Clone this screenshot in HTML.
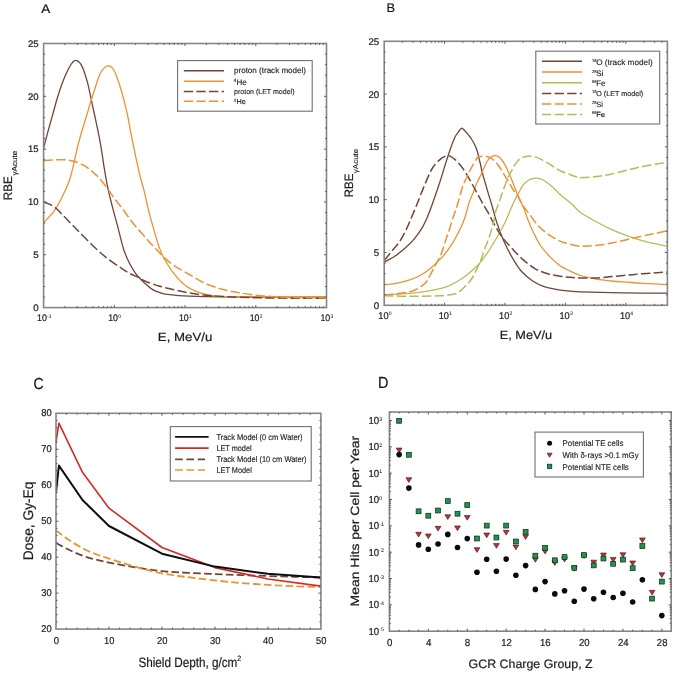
<!DOCTYPE html>
<html><head><meta charset="utf-8"><style>
html,body{margin:0;padding:0;background:#fff;}
svg{display:block;}
text{font-family:"Liberation Sans",sans-serif;}
svg{will-change:transform;text-rendering:geometricPrecision;}
text{stroke:#1e1e1e;stroke-width:0.22px;}
</style></head><body>
<svg width="675" height="674" viewBox="0 0 675 674">
<rect width="675" height="674" fill="#fff"/>
<text x="41.3" y="13.2" font-size="12.5" text-anchor="start" fill="#111" textLength="9" lengthAdjust="spacingAndGlyphs">A</text>
<clipPath id="cA"><rect x="43.6" y="43.5" width="282.9" height="264.1"/></clipPath>
<g clip-path="url(#cA)">
<path d="M43.6,148 C44.43,144.85 47.15,134.42 48.6,129.1 C50.05,123.78 51.17,120.17 52.3,116.1 C53.43,112.03 54.37,108.33 55.4,104.7 C56.43,101.07 57.47,97.6 58.5,94.3 C59.53,91 60.38,88.2 61.6,84.9 C62.82,81.6 64.42,77.62 65.8,74.5 C67.18,71.38 68.77,68.22 69.9,66.2 C71.03,64.18 71.73,63.38 72.6,62.4 C73.47,61.42 74.02,60.37 75.1,60.3 C76.18,60.23 77.9,60.9 79.1,62 C80.3,63.1 81.33,64.9 82.3,66.9 C83.27,68.9 84.02,71.33 84.9,74 C85.78,76.67 86.78,79.78 87.6,82.9 C88.42,86.02 89.2,90.02 89.8,92.7 C90.4,95.38 90.6,96.17 91.2,99 C91.8,101.83 92.67,106.25 93.4,109.7 C94.13,113.15 94.43,114.08 95.6,119.7 C96.77,125.32 98.92,135.08 100.4,143.4 C101.88,151.72 103.18,161.8 104.5,169.6 C105.82,177.4 106.88,183.62 108.3,190.2 C109.72,196.78 111.42,202.98 113,209.1 C114.58,215.22 116.02,220.17 117.8,226.9 C119.58,233.63 121.75,243.43 123.7,249.5 C125.65,255.57 127.62,259.45 129.5,263.3 C131.38,267.15 133.43,270.27 135,272.6 C136.57,274.93 137.27,275.53 138.9,277.3 C140.53,279.07 142.57,281.18 144.8,283.2 C147.03,285.22 149.77,287.83 152.3,289.4 C154.83,290.97 157.53,291.78 160,292.6 C162.47,293.42 162.22,293.7 167.1,294.3 C171.98,294.9 178.92,295.77 189.3,296.2 C199.68,296.63 206.53,296.73 229.4,296.9 C252.27,297.07 310.32,297.15 326.5,297.2" fill="none" stroke="#724536" stroke-width="1.3" stroke-linejoin="round" />
<path d="M43.6,222.7 C45.47,220.6 51.45,214.92 54.8,210.1 C58.15,205.28 61.22,198.9 63.7,193.8 C66.18,188.7 68,184.63 69.7,179.5 C71.4,174.37 72.6,168.42 73.9,163 C75.2,157.58 76.3,151.85 77.5,147 C78.7,142.15 79.67,138.85 81.1,133.9 C82.53,128.95 84.43,122.87 86.1,117.3 C87.77,111.73 89.5,105.68 91.1,100.5 C92.7,95.32 94.43,90.07 95.7,86.2 C96.97,82.33 97.58,80.03 98.7,77.3 C99.82,74.57 100.85,71.72 102.4,69.8 C103.95,67.88 106.27,66.03 108,65.8 C109.73,65.57 111.5,66.98 112.8,68.4 C114.1,69.82 114.68,71.58 115.8,74.3 C116.92,77.02 118.4,81.37 119.5,84.7 C120.6,88.03 121.48,91.03 122.4,94.3 C123.32,97.57 124.1,100.6 125,104.3 C125.9,108 126.92,112.22 127.8,116.5 C128.68,120.78 129.13,124.03 130.3,130 C131.47,135.97 133.22,144.8 134.8,152.3 C136.38,159.8 138.28,168.68 139.8,175 C141.32,181.32 142.23,183.52 143.9,190.2 C145.57,196.88 147.82,207.4 149.8,215.1 C151.78,222.8 154.22,231 155.8,236.4 C157.38,241.8 157.92,243.82 159.3,247.5 C160.68,251.18 161.57,254.03 164.1,258.5 C166.63,262.97 170.78,269.68 174.5,274.3 C178.22,278.92 182.2,283.15 186.4,286.2 C190.6,289.25 195.25,291.03 199.7,292.6 C204.15,294.17 208.15,294.92 213.1,295.6 C218.05,296.28 210.5,296.43 229.4,296.7 C248.3,296.97 310.32,297.12 326.5,297.2" fill="none" stroke="#ee9230" stroke-width="1.3" stroke-linejoin="round" />
<path d="M43.6,202 C44.33,202.27 46.13,202.73 48,203.6 C49.87,204.47 52.42,205.37 54.8,207.2 C57.18,209.03 59.93,212.22 62.3,214.6 C64.67,216.98 66.53,218.97 69,221.5 C71.47,224.03 73.28,225.93 77.1,229.8 C80.92,233.67 86.95,240 91.9,244.7 C96.85,249.4 101.85,254.05 106.8,258 C111.75,261.95 117.73,265.8 121.6,268.4 C125.47,271 127.03,272.03 130,273.6 C132.97,275.17 136.93,276.57 139.4,277.8 C141.87,279.03 141.42,279.6 144.8,281 C148.18,282.4 154.75,284.72 159.7,286.2 C164.65,287.68 169.57,288.78 174.5,289.9 C179.43,291.02 184.35,292.03 189.3,292.9 C194.25,293.77 199.25,294.53 204.2,295.1 C209.15,295.67 213.03,295.93 219,296.3 C224.97,296.67 231.5,297.02 240,297.3 C248.5,297.58 260,297.85 270,298 C280,298.15 290.58,298.15 300,298.2 C309.42,298.25 322.08,298.28 326.5,298.3" fill="none" stroke="#724536" stroke-width="1.5" stroke-dasharray="9.3 3.3" stroke-linejoin="round" />
<path d="M43.6,160.7 C45,160.58 48.88,160.17 52,160 C55.12,159.83 59.3,159.63 62.3,159.7 C65.3,159.77 67.53,159.98 70,160.4 C72.47,160.82 74.8,161.37 77.1,162.2 C79.4,163.03 81.73,164.23 83.8,165.4 C85.87,166.57 87.72,167.83 89.5,169.2 C91.28,170.57 92.75,171.98 94.5,173.6 C96.25,175.22 97.8,176.33 100,178.9 C102.2,181.47 105.13,185.53 107.7,189 C110.27,192.47 112.73,196.15 115.4,199.7 C118.07,203.25 120.93,206.58 123.7,210.3 C126.47,214.02 129.03,218.23 132,222 C134.97,225.77 138.53,229.5 141.5,232.9 C144.47,236.3 147.3,239.63 149.8,242.4 C152.3,245.17 154.12,246.97 156.5,249.5 C158.88,252.03 161.1,254.88 164.1,257.6 C167.1,260.32 170.3,262.98 174.5,265.8 C178.7,268.62 184.35,271.63 189.3,274.5 C194.25,277.37 199.25,280.68 204.2,283 C209.15,285.32 214.8,287.07 219,288.4 C223.2,289.73 225.8,290.23 229.4,291 C233,291.77 236.15,292.3 240.6,293 C245.05,293.7 250.92,294.6 256.1,295.2 C261.28,295.8 266.52,296.23 271.7,296.6 C276.88,296.97 278.07,297.18 287.2,297.4 C296.33,297.62 319.95,297.82 326.5,297.9" fill="none" stroke="#ee9230" stroke-width="1.5" stroke-dasharray="9.3 3.3" stroke-linejoin="round" />
</g>
<rect x="43.6" y="43.5" width="282.9" height="264.1" fill="none" stroke="#858585" stroke-width="1.6"/>
<path d="M43.6,297.04h1.5 M326.5,297.04h-1.5 M43.6,286.47h1.5 M326.5,286.47h-1.5 M43.6,275.91h1.5 M326.5,275.91h-1.5 M43.6,265.34h1.5 M326.5,265.34h-1.5 M43.6,244.22h1.5 M326.5,244.22h-1.5 M43.6,233.65h1.5 M326.5,233.65h-1.5 M43.6,223.09h1.5 M326.5,223.09h-1.5 M43.6,212.52h1.5 M326.5,212.52h-1.5 M43.6,191.4h1.5 M326.5,191.4h-1.5 M43.6,180.83h1.5 M326.5,180.83h-1.5 M43.6,170.27h1.5 M326.5,170.27h-1.5 M43.6,159.7h1.5 M326.5,159.7h-1.5 M43.6,138.58h1.5 M326.5,138.58h-1.5 M43.6,128.01h1.5 M326.5,128.01h-1.5 M43.6,117.45h1.5 M326.5,117.45h-1.5 M43.6,106.88h1.5 M326.5,106.88h-1.5 M43.6,85.76h1.5 M326.5,85.76h-1.5 M43.6,75.19h1.5 M326.5,75.19h-1.5 M43.6,64.63h1.5 M326.5,64.63h-1.5 M43.6,54.06h1.5 M326.5,54.06h-1.5" stroke="#5a5a5a" stroke-width="1" fill="none"/>
<path d="M43.6,254.78h2.5 M326.5,254.78h-2.5 M43.6,201.96h2.5 M326.5,201.96h-2.5 M43.6,149.14h2.5 M326.5,149.14h-2.5 M43.6,96.32h2.5 M326.5,96.32h-2.5" stroke="#5a5a5a" stroke-width="1" fill="none"/>
<path d="M64.89,307.6v-1.5 M64.89,43.5v1.5 M77.34,307.6v-1.5 M77.34,43.5v1.5 M86.18,307.6v-1.5 M86.18,43.5v1.5 M93.03,307.6v-1.5 M93.03,43.5v1.5 M98.63,307.6v-1.5 M98.63,43.5v1.5 M103.37,307.6v-1.5 M103.37,43.5v1.5 M107.47,307.6v-1.5 M107.47,43.5v1.5 M111.09,307.6v-1.5 M111.09,43.5v1.5 M135.62,307.6v-1.5 M135.62,43.5v1.5 M148.07,307.6v-1.5 M148.07,43.5v1.5 M156.91,307.6v-1.5 M156.91,43.5v1.5 M163.76,307.6v-1.5 M163.76,43.5v1.5 M169.36,307.6v-1.5 M169.36,43.5v1.5 M174.09,307.6v-1.5 M174.09,43.5v1.5 M178.2,307.6v-1.5 M178.2,43.5v1.5 M181.81,307.6v-1.5 M181.81,43.5v1.5 M206.34,307.6v-1.5 M206.34,43.5v1.5 M218.79,307.6v-1.5 M218.79,43.5v1.5 M227.63,307.6v-1.5 M227.63,43.5v1.5 M234.48,307.6v-1.5 M234.48,43.5v1.5 M240.08,307.6v-1.5 M240.08,43.5v1.5 M244.82,307.6v-1.5 M244.82,43.5v1.5 M248.92,307.6v-1.5 M248.92,43.5v1.5 M252.54,307.6v-1.5 M252.54,43.5v1.5 M277.07,307.6v-1.5 M277.07,43.5v1.5 M289.52,307.6v-1.5 M289.52,43.5v1.5 M298.36,307.6v-1.5 M298.36,43.5v1.5 M305.21,307.6v-1.5 M305.21,43.5v1.5 M310.81,307.6v-1.5 M310.81,43.5v1.5 M315.54,307.6v-1.5 M315.54,43.5v1.5 M319.65,307.6v-1.5 M319.65,43.5v1.5 M323.26,307.6v-1.5 M323.26,43.5v1.5" stroke="#5a5a5a" stroke-width="1" fill="none"/>
<path d="M114.32,307.6v-2.5 M114.32,43.5v2.5 M185.05,307.6v-2.5 M185.05,43.5v2.5 M255.77,307.6v-2.5 M255.77,43.5v2.5" stroke="#5a5a5a" stroke-width="1" fill="none"/>
<text x="38.6" y="310.9" font-size="9.5" text-anchor="end" fill="#1e1e1e" textLength="5.4" lengthAdjust="spacingAndGlyphs">0</text>
<text x="38.6" y="258.08" font-size="9.5" text-anchor="end" fill="#1e1e1e" textLength="5.4" lengthAdjust="spacingAndGlyphs">5</text>
<text x="38.6" y="205.26" font-size="9.5" text-anchor="end" fill="#1e1e1e" textLength="10.6" lengthAdjust="spacingAndGlyphs">10</text>
<text x="38.6" y="152.44" font-size="9.5" text-anchor="end" fill="#1e1e1e" textLength="10.6" lengthAdjust="spacingAndGlyphs">15</text>
<text x="38.6" y="99.62" font-size="9.5" text-anchor="end" fill="#1e1e1e" textLength="10.6" lengthAdjust="spacingAndGlyphs">20</text>
<text x="38.6" y="46.8" font-size="9.5" text-anchor="end" fill="#1e1e1e" textLength="10.6" lengthAdjust="spacingAndGlyphs">25</text>
<text x="37.08" y="320.7" font-size="9.5" text-anchor="start" fill="#1e1e1e" textLength="9.79" lengthAdjust="spacingAndGlyphs">10</text>
<text x="47.07" y="317.8" font-size="5" text-anchor="start" fill="#1e1e1e" style="stroke-width:0.05px">-1</text>
<text x="108.24" y="320.7" font-size="9.5" text-anchor="start" fill="#1e1e1e" textLength="9.79" lengthAdjust="spacingAndGlyphs">10</text>
<text x="118.23" y="317.8" font-size="5" text-anchor="start" fill="#1e1e1e" style="stroke-width:0.05px">0</text>
<text x="178.97" y="320.7" font-size="9.5" text-anchor="start" fill="#1e1e1e" textLength="9.79" lengthAdjust="spacingAndGlyphs">10</text>
<text x="188.95" y="317.8" font-size="5" text-anchor="start" fill="#1e1e1e" style="stroke-width:0.05px">1</text>
<text x="249.69" y="320.7" font-size="9.5" text-anchor="start" fill="#1e1e1e" textLength="9.79" lengthAdjust="spacingAndGlyphs">10</text>
<text x="259.68" y="317.8" font-size="5" text-anchor="start" fill="#1e1e1e" style="stroke-width:0.05px">2</text>
<text x="320.42" y="320.7" font-size="9.5" text-anchor="start" fill="#1e1e1e" textLength="9.79" lengthAdjust="spacingAndGlyphs">10</text>
<text x="330.4" y="317.8" font-size="5" text-anchor="start" fill="#1e1e1e" style="stroke-width:0.05px">3</text>
<text x="157.8" y="341" font-size="12" text-anchor="start" fill="#1e1e1e" textLength="54.5" lengthAdjust="spacingAndGlyphs">E, MeV/u</text>
<g transform="translate(12.4,200.2) rotate(-90)">
<text x="0" y="0" font-size="12.2" text-anchor="start" fill="#1e1e1e" textLength="24" lengthAdjust="spacingAndGlyphs">RBE</text>
<text x="24.6" y="4.6" font-size="7.2" text-anchor="start" fill="#1e1e1e" textLength="25" lengthAdjust="spacingAndGlyphs" style="stroke-width:0.14px">&#947;Acute</text>
</g>
<rect x="177.6" y="60.6" width="134.6" height="50.6" fill="none" stroke="#707070" stroke-width="1.1"/>
<path d="M183.8,70.7 H224" fill="none" stroke="#724536" stroke-width="1.4" stroke-linejoin="round" />
<path d="M183.8,81.2 H224" fill="none" stroke="#ee9230" stroke-width="1.4" stroke-linejoin="round" />
<path d="M183.8,91.6 H224" fill="none" stroke="#724536" stroke-width="1.5" stroke-dasharray="9.3 3.3" stroke-linejoin="round" />
<path d="M183.8,101.2 H224" fill="none" stroke="#ee9230" stroke-width="1.5" stroke-dasharray="9.3 3.3" stroke-linejoin="round" />
<text x="234" y="73.4" font-size="8" text-anchor="start" fill="#1e1e1e" textLength="72" lengthAdjust="spacingAndGlyphs" style="stroke-width:0.14px">proton (track model)</text>
<text x="233.5" y="82" font-size="4.9" text-anchor="start" fill="#1e1e1e" style="stroke-width:0.12px">4</text>
<text x="236.4" y="85" font-size="8" text-anchor="start" fill="#1e1e1e" style="stroke-width:0.14px">He</text>
<text x="234" y="94" font-size="7.1" text-anchor="start" fill="#1e1e1e" textLength="60.5" lengthAdjust="spacingAndGlyphs" style="stroke-width:0.14px">proton (LET model)</text>
<text x="233.5" y="101.6" font-size="4.7" text-anchor="start" fill="#1e1e1e" style="stroke-width:0.12px">4</text>
<text x="236.4" y="104.4" font-size="7.3" text-anchor="start" fill="#1e1e1e" style="stroke-width:0.14px">He</text>
<text x="386.4" y="12" font-size="12.5" text-anchor="start" fill="#111" textLength="8.6" lengthAdjust="spacingAndGlyphs">B</text>
<clipPath id="cB"><rect x="384.2" y="41.3" width="283.2" height="264.0"/></clipPath>
<g clip-path="url(#cB)">
<path d="M384.2,262.1 C385.97,261.12 391.3,258.55 394.8,256.2 C398.3,253.85 401.98,250.85 405.2,248 C408.42,245.15 411.38,242.28 414.1,239.1 C416.82,235.92 419.3,232.55 421.5,228.9 C423.7,225.25 425.57,221.13 427.3,217.2 C429.03,213.27 429.9,210.87 431.9,205.3 C433.9,199.73 437.07,190.6 439.3,183.8 C441.53,177 443.52,170.13 445.3,164.5 C447.08,158.87 448.38,154.57 450,150 C451.62,145.43 453.67,140 455,137.1 C456.33,134.2 456.95,134.07 458,132.6 C459.05,131.13 460.2,128.67 461.3,128.3 C462.4,127.93 463.42,129.32 464.6,130.4 C465.78,131.48 467.15,133.2 468.4,134.8 C469.65,136.4 471,138.27 472.1,140 C473.2,141.73 474.13,143.33 475,145.2 C475.87,147.07 476.68,149.22 477.3,151.2 C477.92,153.18 478.22,155.13 478.7,157.1 C479.18,159.07 479.58,160.32 480.2,163 C480.82,165.68 481.53,169.78 482.4,173.2 C483.27,176.62 484.4,180.05 485.4,183.5 C486.4,186.95 487.4,190.55 488.4,193.9 C489.4,197.25 490.42,200.25 491.4,203.6 C492.38,206.95 493.37,210.77 494.3,214 C495.23,217.23 495.85,219.55 497,223 C498.15,226.45 499.52,230.53 501.2,234.7 C502.88,238.87 504.88,243.55 507.1,248 C509.32,252.45 512.03,257.43 514.5,261.4 C516.97,265.37 518.93,268.58 521.9,271.8 C524.87,275.02 528.58,278.23 532.3,280.7 C536.02,283.17 539.75,285.07 544.2,286.6 C548.65,288.13 554.7,289.15 559,289.9 C563.3,290.65 566.4,290.77 570,291.1 C573.6,291.43 573.65,291.63 580.6,291.9 C587.55,292.17 601.32,292.5 611.7,292.7 C622.08,292.9 633.62,293.03 642.9,293.1 C652.18,293.17 663.32,293.1 667.4,293.1" fill="none" stroke="#724536" stroke-width="1.3" stroke-linejoin="round" />
<path d="M384.2,284.7 C385.97,284.52 390.55,284.4 394.8,283.6 C399.05,282.8 405.25,281.38 409.7,279.9 C414.15,278.42 417.8,276.8 421.5,274.7 C425.2,272.6 428.93,269.77 431.9,267.3 C434.87,264.83 437.5,261.68 439.3,259.9 C441.1,258.12 441.1,258.48 442.7,256.6 C444.3,254.72 446.83,251.57 448.9,248.6 C450.97,245.63 453.17,242.2 455.1,238.8 C457.03,235.4 458.87,231.75 460.5,228.2 C462.13,224.65 463.47,221.73 464.9,217.5 C466.33,213.27 467.67,207.1 469.1,202.8 C470.53,198.5 472.13,195.15 473.5,191.7 C474.87,188.25 475.93,185.18 477.3,182.1 C478.67,179.02 480.22,176.38 481.7,173.2 C483.18,170.02 484.83,165.57 486.2,163 C487.57,160.43 488.55,159.03 489.9,157.8 C491.25,156.57 492.95,155.83 494.3,155.6 C495.65,155.37 496.73,155.67 498,156.4 C499.27,157.13 500.63,158.42 501.9,160 C503.17,161.58 504.37,163.55 505.6,165.9 C506.83,168.25 508.07,171.25 509.3,174.1 C510.53,176.95 511.77,179.92 513,183 C514.23,186.08 515.47,189.63 516.7,192.6 C517.93,195.57 519.17,198.07 520.4,200.8 C521.63,203.53 522.85,205.83 524.1,209 C525.35,212.17 526.28,215.77 527.9,219.8 C529.52,223.83 531.58,228.75 533.8,233.2 C536.02,237.65 538.48,242.55 541.2,246.5 C543.92,250.45 547.13,253.8 550.1,256.9 C553.07,260 556.52,263.17 559,265.1 C561.48,267.03 562.7,267.28 565,268.5 C567.3,269.72 570.2,271.23 572.8,272.4 C575.4,273.57 576.7,274.38 580.6,275.5 C584.5,276.62 591.02,278.18 596.2,279.1 C601.38,280.02 606.52,280.48 611.7,281 C616.88,281.52 622.1,281.82 627.3,282.2 C632.5,282.58 636.22,282.9 642.9,283.3 C649.58,283.7 663.32,284.38 667.4,284.6" fill="none" stroke="#ee9230" stroke-width="1.3" stroke-linejoin="round" />
<path d="M384.2,294.8 C388.45,294.55 401.75,294.05 409.7,293.3 C417.65,292.55 425.72,291.42 431.9,290.3 C438.08,289.18 442.35,288.2 446.8,286.6 C451.25,285 454.9,282.93 458.6,280.7 C462.3,278.47 465.57,276.02 469,273.2 C472.43,270.38 476.17,267.15 479.2,263.8 C482.23,260.45 484.83,256.52 487.2,253.1 C489.57,249.68 491.4,246.57 493.4,243.3 C495.4,240.03 497.17,237.17 499.2,233.5 C501.23,229.83 503.67,225.38 505.6,221.3 C507.53,217.22 509.2,212.67 510.8,209 C512.4,205.33 513.85,202.03 515.2,199.3 C516.55,196.57 517.6,194.97 518.9,192.6 C520.2,190.23 521.42,187.17 523,185.1 C524.58,183.03 526.62,181.32 528.4,180.2 C530.18,179.08 531.93,178.7 533.7,178.4 C535.47,178.1 537.37,178.1 539,178.4 C540.63,178.7 542,179.38 543.5,180.2 C545,181.02 546.37,182.05 548,183.3 C549.63,184.55 551.38,185.92 553.3,187.7 C555.22,189.48 557.42,192.07 559.5,194 C561.58,195.93 563.72,197.6 565.8,199.3 C567.88,201 569.53,202 572,204.2 C574.47,206.4 576.57,209.57 580.6,212.5 C584.63,215.43 591.02,218.95 596.2,221.8 C601.38,224.65 606.52,227.27 611.7,229.6 C616.88,231.93 622.1,233.93 627.3,235.8 C632.5,237.67 637.7,239.37 642.9,240.8 C648.1,242.23 654.42,243.47 658.5,244.4 C662.58,245.33 665.92,246.07 667.4,246.4" fill="none" stroke="#bcb955" stroke-width="1.3" stroke-linejoin="round" />
<path d="M384.2,260.6 C385.48,259 389.38,254.08 391.9,251 C394.42,247.92 397.08,245.32 399.3,242.1 C401.52,238.88 403.35,235.38 405.2,231.7 C407.05,228.02 408.42,224.62 410.4,220 C412.38,215.38 414.75,209.78 417.1,204 C419.45,198.22 422.03,191.13 424.5,185.3 C426.97,179.47 429.43,173.2 431.9,169 C434.37,164.8 436.7,162.33 439.3,160.1 C441.9,157.87 445.02,155.8 447.5,155.6 C449.98,155.4 452.08,157.33 454.2,158.9 C456.32,160.47 458.33,162.75 460.2,165 C462.07,167.25 463.8,169.93 465.4,172.4 C467,174.87 468.32,177.2 469.8,179.8 C471.28,182.4 472.82,185.27 474.3,188 C475.78,190.73 477.22,193.48 478.7,196.2 C480.18,198.92 481.58,201.47 483.2,204.3 C484.82,207.13 486.7,210.12 488.4,213.2 C490.1,216.28 491.6,219.57 493.4,222.8 C495.2,226.03 497.42,229.8 499.2,232.6 C500.98,235.4 501.8,236.78 504.1,239.6 C506.4,242.42 509.78,246.12 513,249.5 C516.22,252.88 519.68,256.68 523.4,259.9 C527.12,263.12 531.1,266.45 535.3,268.8 C539.5,271.15 544.15,272.72 548.6,274 C553.05,275.28 558.43,275.95 562,276.5 C565.57,277.05 566.9,277.05 570,277.3 C573.1,277.55 576.23,277.9 580.6,278 C584.97,278.1 591.02,278.13 596.2,277.9 C601.38,277.67 606.52,277.07 611.7,276.6 C616.88,276.13 622.1,275.58 627.3,275.1 C632.5,274.62 636.22,274.22 642.9,273.7 C649.58,273.18 663.32,272.28 667.4,272" fill="none" stroke="#724536" stroke-width="1.5" stroke-dasharray="9.3 3.3" stroke-linejoin="round" />
<path d="M384.2,294.8 C385.97,294.67 390.55,294.5 394.8,294 C399.05,293.5 405.73,292.78 409.7,291.8 C413.67,290.82 415.88,289.7 418.6,288.1 C421.32,286.5 423.78,284.92 426,282.2 C428.22,279.48 430.23,274.83 431.9,271.8 C433.57,268.77 434.58,266.67 436,264 C437.42,261.33 439.28,258.22 440.4,255.8 C441.52,253.38 441.73,252.33 442.7,249.5 C443.67,246.67 445.02,242.35 446.2,238.8 C447.38,235.25 448.6,231.9 449.8,228.2 C451,224.5 452.13,220.47 453.4,216.6 C454.67,212.73 455.9,209.88 457.4,205 C458.9,200.12 460.7,192.23 462.4,187.3 C464.1,182.37 465.98,178.87 467.6,175.4 C469.22,171.93 470.48,169.43 472.1,166.5 C473.72,163.57 475.95,159.48 477.3,157.8 C478.65,156.12 478.72,156.63 480.2,156.4 C481.68,156.17 484.47,156.17 486.2,156.4 C487.93,156.63 489.13,156.95 490.6,157.8 C492.07,158.65 493.68,160.22 495,161.5 C496.32,162.78 497.1,163.52 498.5,165.5 C499.9,167.48 501.73,170.73 503.4,173.4 C505.07,176.07 506.9,178.78 508.5,181.5 C510.1,184.22 511.52,187.35 513,189.7 C514.48,192.05 515.92,193.25 517.4,195.6 C518.88,197.95 520.53,201.52 521.9,203.8 C523.27,206.08 524.37,207.62 525.6,209.3 C526.83,210.98 527.2,211.15 529.3,213.9 C531.4,216.65 534.98,222.33 538.2,225.8 C541.42,229.27 545.13,232.23 548.6,234.7 C552.07,237.17 556.27,239.25 559,240.6 C561.73,241.95 561.92,241.9 565,242.8 C568.08,243.7 573.6,245.47 577.5,246 C581.4,246.53 584,246.27 588.4,246 C592.8,245.73 598.72,245.18 603.9,244.4 C609.08,243.62 614.3,242.42 619.5,241.3 C624.7,240.18 629.9,238.87 635.1,237.7 C640.3,236.53 645.32,235.45 650.7,234.3 C656.08,233.15 664.62,231.38 667.4,230.8" fill="none" stroke="#ee9230" stroke-width="1.5" stroke-dasharray="9.3 3.3" stroke-linejoin="round" />
<path d="M384.2,295.8 C388.45,295.87 400.52,296.2 409.7,296.2 C418.88,296.2 431.88,296.17 439.3,295.8 C446.72,295.43 450.73,294.78 454.2,294 C457.67,293.22 458.13,292.52 460.1,291.1 C462.07,289.68 463.98,287.68 466,285.5 C468.02,283.32 469.85,281.92 472.2,278 C474.55,274.08 478.05,266.75 480.1,262 C482.15,257.25 483.02,253.52 484.5,249.5 C485.98,245.48 487.52,242.35 489,237.9 C490.48,233.45 492.27,227.28 493.4,222.8 C494.53,218.32 494.88,214.3 495.8,211 C496.72,207.7 497.88,205.82 498.9,203 C499.92,200.18 500.92,196.93 501.9,194.1 C502.88,191.27 503.82,188.72 504.8,186 C505.78,183.28 506.55,180.53 507.8,177.8 C509.05,175.07 511.1,171.8 512.3,169.6 C513.5,167.4 514.1,166.03 515,164.6 C515.9,163.17 516.67,162.12 517.7,161 C518.73,159.88 519.87,158.67 521.2,157.9 C522.53,157.13 524.22,156.7 525.7,156.4 C527.18,156.1 528.62,156.07 530.1,156.1 C531.58,156.13 532.67,156 534.6,156.6 C536.53,157.2 539.33,158.52 541.7,159.7 C544.07,160.88 546.57,162.37 548.8,163.7 C551.03,165.03 553.02,166.43 555.1,167.7 C557.18,168.97 559.08,170.27 561.3,171.3 C563.52,172.33 566.17,173.08 568.4,173.9 C570.63,174.72 572.67,175.57 574.7,176.2 C576.73,176.83 577.02,177.63 580.6,177.7 C584.18,177.77 591.02,177.22 596.2,176.6 C601.38,175.98 606.52,175.08 611.7,174 C616.88,172.92 622.1,171.35 627.3,170.1 C632.5,168.85 637.7,167.57 642.9,166.5 C648.1,165.43 654.42,164.35 658.5,163.7 C662.58,163.05 665.92,162.78 667.4,162.6" fill="none" stroke="#bcb955" stroke-width="1.5" stroke-dasharray="9.3 3.3" stroke-linejoin="round" />
</g>
<rect x="384.2" y="41.3" width="283.2" height="264" fill="none" stroke="#858585" stroke-width="1.6"/>
<path d="M384.2,294.74h1.5 M667.4,294.74h-1.5 M384.2,284.18h1.5 M667.4,284.18h-1.5 M384.2,273.62h1.5 M667.4,273.62h-1.5 M384.2,263.06h1.5 M667.4,263.06h-1.5 M384.2,241.94h1.5 M667.4,241.94h-1.5 M384.2,231.38h1.5 M667.4,231.38h-1.5 M384.2,220.82h1.5 M667.4,220.82h-1.5 M384.2,210.26h1.5 M667.4,210.26h-1.5 M384.2,189.14h1.5 M667.4,189.14h-1.5 M384.2,178.58h1.5 M667.4,178.58h-1.5 M384.2,168.02h1.5 M667.4,168.02h-1.5 M384.2,157.46h1.5 M667.4,157.46h-1.5 M384.2,136.34h1.5 M667.4,136.34h-1.5 M384.2,125.78h1.5 M667.4,125.78h-1.5 M384.2,115.22h1.5 M667.4,115.22h-1.5 M384.2,104.66h1.5 M667.4,104.66h-1.5 M384.2,83.54h1.5 M667.4,83.54h-1.5 M384.2,72.98h1.5 M667.4,72.98h-1.5 M384.2,62.42h1.5 M667.4,62.42h-1.5 M384.2,51.86h1.5 M667.4,51.86h-1.5" stroke="#5a5a5a" stroke-width="1" fill="none"/>
<path d="M384.2,252.5h2.5 M667.4,252.5h-2.5 M384.2,199.7h2.5 M667.4,199.7h-2.5 M384.2,146.9h2.5 M667.4,146.9h-2.5 M384.2,94.1h2.5 M667.4,94.1h-2.5" stroke="#5a5a5a" stroke-width="1" fill="none"/>
<path d="M402.38,305.3v-1.5 M402.38,41.3v1.5 M413.02,305.3v-1.5 M413.02,41.3v1.5 M420.56,305.3v-1.5 M420.56,41.3v1.5 M426.42,305.3v-1.5 M426.42,41.3v1.5 M431.2,305.3v-1.5 M431.2,41.3v1.5 M435.24,305.3v-1.5 M435.24,41.3v1.5 M438.75,305.3v-1.5 M438.75,41.3v1.5 M441.84,305.3v-1.5 M441.84,41.3v1.5 M462.78,305.3v-1.5 M462.78,41.3v1.5 M473.42,305.3v-1.5 M473.42,41.3v1.5 M480.96,305.3v-1.5 M480.96,41.3v1.5 M486.82,305.3v-1.5 M486.82,41.3v1.5 M491.6,305.3v-1.5 M491.6,41.3v1.5 M495.64,305.3v-1.5 M495.64,41.3v1.5 M499.15,305.3v-1.5 M499.15,41.3v1.5 M502.24,305.3v-1.5 M502.24,41.3v1.5 M523.18,305.3v-1.5 M523.18,41.3v1.5 M533.82,305.3v-1.5 M533.82,41.3v1.5 M541.36,305.3v-1.5 M541.36,41.3v1.5 M547.22,305.3v-1.5 M547.22,41.3v1.5 M552,305.3v-1.5 M552,41.3v1.5 M556.04,305.3v-1.5 M556.04,41.3v1.5 M559.55,305.3v-1.5 M559.55,41.3v1.5 M562.64,305.3v-1.5 M562.64,41.3v1.5 M583.58,305.3v-1.5 M583.58,41.3v1.5 M594.22,305.3v-1.5 M594.22,41.3v1.5 M601.76,305.3v-1.5 M601.76,41.3v1.5 M607.62,305.3v-1.5 M607.62,41.3v1.5 M612.4,305.3v-1.5 M612.4,41.3v1.5 M616.44,305.3v-1.5 M616.44,41.3v1.5 M619.95,305.3v-1.5 M619.95,41.3v1.5 M623.04,305.3v-1.5 M623.04,41.3v1.5 M643.98,305.3v-1.5 M643.98,41.3v1.5 M654.62,305.3v-1.5 M654.62,41.3v1.5 M662.16,305.3v-1.5 M662.16,41.3v1.5" stroke="#5a5a5a" stroke-width="1" fill="none"/>
<path d="M444.6,305.3v-2.5 M444.6,41.3v2.5 M505,305.3v-2.5 M505,41.3v2.5 M565.4,305.3v-2.5 M565.4,41.3v2.5 M625.8,305.3v-2.5 M625.8,41.3v2.5" stroke="#5a5a5a" stroke-width="1" fill="none"/>
<text x="379.2" y="308.7" font-size="9.7" text-anchor="end" fill="#1e1e1e" textLength="5.4" lengthAdjust="spacingAndGlyphs">0</text>
<text x="379.2" y="255.9" font-size="9.7" text-anchor="end" fill="#1e1e1e" textLength="5.4" lengthAdjust="spacingAndGlyphs">5</text>
<text x="379.2" y="203.1" font-size="9.7" text-anchor="end" fill="#1e1e1e" textLength="10.8" lengthAdjust="spacingAndGlyphs">10</text>
<text x="379.2" y="150.3" font-size="9.7" text-anchor="end" fill="#1e1e1e" textLength="10.8" lengthAdjust="spacingAndGlyphs">15</text>
<text x="379.2" y="97.5" font-size="9.7" text-anchor="end" fill="#1e1e1e" textLength="10.8" lengthAdjust="spacingAndGlyphs">20</text>
<text x="379.2" y="44.7" font-size="9.7" text-anchor="end" fill="#1e1e1e" textLength="10.8" lengthAdjust="spacingAndGlyphs">25</text>
<text x="378.29" y="318.5" font-size="9.8" text-anchor="start" fill="#1e1e1e" textLength="10.23" lengthAdjust="spacingAndGlyphs">10</text>
<text x="388.73" y="315.46" font-size="5" text-anchor="start" fill="#1e1e1e" style="stroke-width:0.05px">0</text>
<text x="438.69" y="318.5" font-size="9.8" text-anchor="start" fill="#1e1e1e" textLength="10.23" lengthAdjust="spacingAndGlyphs">10</text>
<text x="449.13" y="315.46" font-size="5" text-anchor="start" fill="#1e1e1e" style="stroke-width:0.05px">1</text>
<text x="499.09" y="318.5" font-size="9.8" text-anchor="start" fill="#1e1e1e" textLength="10.23" lengthAdjust="spacingAndGlyphs">10</text>
<text x="509.53" y="315.46" font-size="5" text-anchor="start" fill="#1e1e1e" style="stroke-width:0.05px">2</text>
<text x="559.49" y="318.5" font-size="9.8" text-anchor="start" fill="#1e1e1e" textLength="10.23" lengthAdjust="spacingAndGlyphs">10</text>
<text x="569.93" y="315.46" font-size="5" text-anchor="start" fill="#1e1e1e" style="stroke-width:0.05px">3</text>
<text x="619.89" y="318.5" font-size="9.8" text-anchor="start" fill="#1e1e1e" textLength="10.23" lengthAdjust="spacingAndGlyphs">10</text>
<text x="630.33" y="315.46" font-size="5" text-anchor="start" fill="#1e1e1e" style="stroke-width:0.05px">4</text>
<text x="499.8" y="339.2" font-size="12" text-anchor="start" fill="#1e1e1e" textLength="52.2" lengthAdjust="spacingAndGlyphs">E, MeV/u</text>
<g transform="translate(353.4,197.2) rotate(-90)">
<text x="0" y="0" font-size="12.2" text-anchor="start" fill="#1e1e1e" textLength="23.5" lengthAdjust="spacingAndGlyphs">RBE</text>
<text x="24" y="4.6" font-size="7.2" text-anchor="start" fill="#1e1e1e" textLength="24.5" lengthAdjust="spacingAndGlyphs" style="stroke-width:0.14px">&#947;Acute</text>
</g>
<rect x="535.8" y="51.2" width="123.9" height="72.8" fill="none" stroke="#707070" stroke-width="1.1"/>
<path d="M542,61.2 H582" fill="none" stroke="#724536" stroke-width="1.4" stroke-linejoin="round" />
<path d="M542,72 H582" fill="none" stroke="#ee9230" stroke-width="1.4" stroke-linejoin="round" />
<path d="M542,82.8 H582" fill="none" stroke="#bcb955" stroke-width="1.4" stroke-linejoin="round" />
<path d="M542,93.6 H582" fill="none" stroke="#724536" stroke-width="1.5" stroke-dasharray="9.3 3.3" stroke-linejoin="round" />
<path d="M542,104.1 H582" fill="none" stroke="#ee9230" stroke-width="1.5" stroke-dasharray="9.3 3.3" stroke-linejoin="round" />
<path d="M542,114.5 H582" fill="none" stroke="#bcb955" stroke-width="1.5" stroke-dasharray="9.3 3.3" stroke-linejoin="round" />
<text x="592" y="61.9" font-size="4.2" text-anchor="start" fill="#1e1e1e" style="stroke-width:0.1px">16</text>
<text x="596.2" y="65" font-size="8" text-anchor="start" fill="#1e1e1e" textLength="56.5" lengthAdjust="spacingAndGlyphs" style="stroke-width:0.14px">O (track model)</text>
<text x="592" y="72.5" font-size="4.2" text-anchor="start" fill="#1e1e1e" style="stroke-width:0.1px">28</text>
<text x="596.2" y="75.6" font-size="8" text-anchor="start" fill="#1e1e1e" style="stroke-width:0.14px">Si</text>
<text x="592" y="83.2" font-size="4.2" text-anchor="start" fill="#1e1e1e" style="stroke-width:0.1px">56</text>
<text x="596.2" y="86.3" font-size="8" text-anchor="start" fill="#1e1e1e" style="stroke-width:0.14px">Fe</text>
<text x="592" y="93.1" font-size="4.2" text-anchor="start" fill="#1e1e1e" style="stroke-width:0.1px">16</text>
<text x="596.2" y="96.2" font-size="7.1" text-anchor="start" fill="#1e1e1e" textLength="47" lengthAdjust="spacingAndGlyphs" style="stroke-width:0.14px">O (LET model)</text>
<text x="592" y="103.6" font-size="4.2" text-anchor="start" fill="#1e1e1e" style="stroke-width:0.1px">28</text>
<text x="596.2" y="106.7" font-size="7.5" text-anchor="start" fill="#1e1e1e" style="stroke-width:0.14px">Si</text>
<text x="592" y="114.1" font-size="4.2" text-anchor="start" fill="#1e1e1e" style="stroke-width:0.1px">56</text>
<text x="596.2" y="117.2" font-size="7.5" text-anchor="start" fill="#1e1e1e" style="stroke-width:0.14px">Fe</text>
<text x="33.6" y="389.2" font-size="16" text-anchor="start" fill="#111" textLength="10.2" lengthAdjust="spacingAndGlyphs">C</text>
<clipPath id="cC"><rect x="56.0" y="413.3" width="264.9" height="215.8"/></clipPath>
<g clip-path="url(#cC)">
<path d="M56,543.1 C58.17,544.22 64.58,547.7 69,549.8 C73.42,551.9 78.08,554.08 82.5,555.7 C86.92,557.32 91.08,558.35 95.5,559.5 C99.92,560.65 102.42,561.3 109,562.6 C115.58,563.9 126.17,565.87 135,567.3 C143.83,568.73 153.17,570.28 162,571.2 C170.83,572.12 179.18,572.32 188,572.8 C196.82,573.28 206.07,573.72 214.9,574.1 C223.73,574.48 232.17,574.78 241,575.1 C249.83,575.42 259.07,575.72 267.9,576 C276.73,576.28 285.17,576.55 294,576.8 C302.83,577.05 316.42,577.38 320.9,577.5" fill="none" stroke="#724536" stroke-width="1.8" stroke-dasharray="7.6 3.3" stroke-linejoin="round" />
<path d="M56,530.4 C58.17,532 64.58,537.03 69,540 C73.42,542.97 78.08,545.87 82.5,548.2 C86.92,550.53 91.08,552.27 95.5,554 C99.92,555.73 102.42,556.5 109,558.6 C115.58,560.7 126.17,564.13 135,566.6 C143.83,569.07 153.17,571.63 162,573.4 C170.83,575.17 179.18,576.03 188,577.2 C196.82,578.37 206.07,579.43 214.9,580.4 C223.73,581.37 232.17,582.25 241,583 C249.83,583.75 259.07,584.37 267.9,584.9 C276.73,585.43 285.17,585.83 294,586.2 C302.83,586.57 316.42,586.95 320.9,587.1" fill="none" stroke="#ee9230" stroke-width="1.8" stroke-dasharray="7.6 3.3" stroke-linejoin="round" />
<path d="M56,442.6 L58.9,423.1 L82.5,472.3 L109,508.2 L162,547.5 L214.9,567.6 L267.9,579 L320.9,586.1" fill="none" stroke="#d42b22" stroke-width="1.6" stroke-linejoin="round" />
<path d="M56,492.3 L58.9,465.6 L82.5,500 L109,526 L162,553.7 L214.9,566.6 L267.9,573.8 L320.9,577.5" fill="none" stroke="#0e0e0e" stroke-width="2.0" stroke-linejoin="round" />
</g>
<rect x="56" y="413.3" width="264.9" height="215.8" fill="none" stroke="#858585" stroke-width="1.6"/>
<path d="M56,621.91h1.5 M320.9,621.91h-1.5 M56,614.71h1.5 M320.9,614.71h-1.5 M56,607.52h1.5 M320.9,607.52h-1.5 M56,600.33h1.5 M320.9,600.33h-1.5 M56,585.94h1.5 M320.9,585.94h-1.5 M56,578.75h1.5 M320.9,578.75h-1.5 M56,571.55h1.5 M320.9,571.55h-1.5 M56,564.36h1.5 M320.9,564.36h-1.5 M56,549.97h1.5 M320.9,549.97h-1.5 M56,542.78h1.5 M320.9,542.78h-1.5 M56,535.59h1.5 M320.9,535.59h-1.5 M56,528.39h1.5 M320.9,528.39h-1.5 M56,514.01h1.5 M320.9,514.01h-1.5 M56,506.81h1.5 M320.9,506.81h-1.5 M56,499.62h1.5 M320.9,499.62h-1.5 M56,492.43h1.5 M320.9,492.43h-1.5 M56,478.04h1.5 M320.9,478.04h-1.5 M56,470.85h1.5 M320.9,470.85h-1.5 M56,463.65h1.5 M320.9,463.65h-1.5 M56,456.46h1.5 M320.9,456.46h-1.5 M56,442.07h1.5 M320.9,442.07h-1.5 M56,434.88h1.5 M320.9,434.88h-1.5 M56,427.69h1.5 M320.9,427.69h-1.5 M56,420.49h1.5 M320.9,420.49h-1.5" stroke="#5a5a5a" stroke-width="1" fill="none"/>
<path d="M56,593.13h2.5 M320.9,593.13h-2.5 M56,557.17h2.5 M320.9,557.17h-2.5 M56,521.2h2.5 M320.9,521.2h-2.5 M56,485.23h2.5 M320.9,485.23h-2.5 M56,449.27h2.5 M320.9,449.27h-2.5" stroke="#5a5a5a" stroke-width="1" fill="none"/>
<path d="M66.6,629.1v-1.5 M66.6,413.3v1.5 M77.19,629.1v-1.5 M77.19,413.3v1.5 M87.79,629.1v-1.5 M87.79,413.3v1.5 M98.38,629.1v-1.5 M98.38,413.3v1.5 M119.58,629.1v-1.5 M119.58,413.3v1.5 M130.17,629.1v-1.5 M130.17,413.3v1.5 M140.77,629.1v-1.5 M140.77,413.3v1.5 M151.36,629.1v-1.5 M151.36,413.3v1.5 M172.56,629.1v-1.5 M172.56,413.3v1.5 M183.15,629.1v-1.5 M183.15,413.3v1.5 M193.75,629.1v-1.5 M193.75,413.3v1.5 M204.34,629.1v-1.5 M204.34,413.3v1.5 M225.54,629.1v-1.5 M225.54,413.3v1.5 M236.13,629.1v-1.5 M236.13,413.3v1.5 M246.73,629.1v-1.5 M246.73,413.3v1.5 M257.32,629.1v-1.5 M257.32,413.3v1.5 M278.52,629.1v-1.5 M278.52,413.3v1.5 M289.11,629.1v-1.5 M289.11,413.3v1.5 M299.71,629.1v-1.5 M299.71,413.3v1.5 M310.3,629.1v-1.5 M310.3,413.3v1.5" stroke="#5a5a5a" stroke-width="1" fill="none"/>
<path d="M108.98,629.1v-2.5 M108.98,413.3v2.5 M161.96,629.1v-2.5 M161.96,413.3v2.5 M214.94,629.1v-2.5 M214.94,413.3v2.5 M267.92,629.1v-2.5 M267.92,413.3v2.5" stroke="#5a5a5a" stroke-width="1" fill="none"/>
<text x="51.7" y="632.1" font-size="9.9" text-anchor="end" fill="#1e1e1e" textLength="10.4" lengthAdjust="spacingAndGlyphs">20</text>
<text x="51.7" y="596.13" font-size="9.9" text-anchor="end" fill="#1e1e1e" textLength="10.4" lengthAdjust="spacingAndGlyphs">30</text>
<text x="51.7" y="560.17" font-size="9.9" text-anchor="end" fill="#1e1e1e" textLength="10.4" lengthAdjust="spacingAndGlyphs">40</text>
<text x="51.7" y="524.2" font-size="9.9" text-anchor="end" fill="#1e1e1e" textLength="10.4" lengthAdjust="spacingAndGlyphs">50</text>
<text x="51.7" y="488.23" font-size="9.9" text-anchor="end" fill="#1e1e1e" textLength="10.4" lengthAdjust="spacingAndGlyphs">60</text>
<text x="51.7" y="452.27" font-size="9.9" text-anchor="end" fill="#1e1e1e" textLength="10.4" lengthAdjust="spacingAndGlyphs">70</text>
<text x="51.7" y="416.3" font-size="9.9" text-anchor="end" fill="#1e1e1e" textLength="10.4" lengthAdjust="spacingAndGlyphs">80</text>
<text x="56.3" y="643.7" font-size="10" text-anchor="middle" fill="#1e1e1e" textLength="5.3" lengthAdjust="spacingAndGlyphs">0</text>
<text x="109.28" y="643.7" font-size="10" text-anchor="middle" fill="#1e1e1e" textLength="10.4" lengthAdjust="spacingAndGlyphs">10</text>
<text x="162.26" y="643.7" font-size="10" text-anchor="middle" fill="#1e1e1e" textLength="10.4" lengthAdjust="spacingAndGlyphs">20</text>
<text x="215.24" y="643.7" font-size="10" text-anchor="middle" fill="#1e1e1e" textLength="10.4" lengthAdjust="spacingAndGlyphs">30</text>
<text x="268.22" y="643.7" font-size="10" text-anchor="middle" fill="#1e1e1e" textLength="10.4" lengthAdjust="spacingAndGlyphs">40</text>
<text x="321.2" y="643.7" font-size="10" text-anchor="middle" fill="#1e1e1e" textLength="10.4" lengthAdjust="spacingAndGlyphs">50</text>
<text x="138.4" y="666.5" font-size="13.6" text-anchor="start" fill="#1e1e1e" textLength="99" lengthAdjust="spacingAndGlyphs">Shield Depth, g/cm</text>
<text x="236.9" y="660.6" font-size="7.8" text-anchor="start" fill="#1e1e1e" style="stroke-width:0.14px">2</text>
<g transform="translate(33.4,560.2) rotate(-90)">
<text x="0" y="0" font-size="14" text-anchor="start" fill="#1e1e1e" textLength="78.6" lengthAdjust="spacingAndGlyphs">Dose, Gy-Eq</text>
</g>
<rect x="170.3" y="426.6" width="140.9" height="54.4" fill="none" stroke="#707070" stroke-width="1.1"/>
<path d="M175.1,436.9 H208.6" fill="none" stroke="#0e0e0e" stroke-width="1.6" stroke-linejoin="round" />
<path d="M175.1,448.1 H208.6" fill="none" stroke="#d42b22" stroke-width="1.6" stroke-linejoin="round" />
<path d="M175.1,459.4 H205" fill="none" stroke="#724536" stroke-width="1.6" stroke-dasharray="7.7 3.6" stroke-linejoin="round" />
<path d="M175.1,470.0 H205" fill="none" stroke="#ee9230" stroke-width="1.6" stroke-dasharray="7.7 3.6" stroke-linejoin="round" />
<text x="216.4" y="439.9" font-size="8.2" text-anchor="start" fill="#1e1e1e" textLength="86.2" lengthAdjust="spacingAndGlyphs" style="stroke-width:0.14px">Track Model (0 cm Water)</text>
<text x="216.4" y="451" font-size="8.2" text-anchor="start" fill="#1e1e1e" textLength="35.2" lengthAdjust="spacingAndGlyphs" style="stroke-width:0.14px">LET model</text>
<text x="216.4" y="462" font-size="8.2" text-anchor="start" fill="#1e1e1e" textLength="90.2" lengthAdjust="spacingAndGlyphs" style="stroke-width:0.14px">Track Model (10 cm Water)</text>
<text x="216.4" y="473.2" font-size="8.2" text-anchor="start" fill="#1e1e1e" textLength="35.4" lengthAdjust="spacingAndGlyphs" style="stroke-width:0.14px">LET Model</text>
<text x="378" y="387.5" font-size="16" text-anchor="start" fill="#111" textLength="10.4" lengthAdjust="spacingAndGlyphs">D</text>
<rect x="389.4" y="412" width="281.8" height="219.2" fill="none" stroke="#858585" stroke-width="1.6"/>
<path d="M399.13,631.2v-1.5 M399.13,412v1.5 M408.86,631.2v-1.5 M408.86,412v1.5 M418.59,631.2v-1.5 M418.59,412v1.5 M438.05,631.2v-1.5 M438.05,412v1.5 M447.78,631.2v-1.5 M447.78,412v1.5 M457.51,631.2v-1.5 M457.51,412v1.5 M476.97,631.2v-1.5 M476.97,412v1.5 M486.7,631.2v-1.5 M486.7,412v1.5 M496.43,631.2v-1.5 M496.43,412v1.5 M515.89,631.2v-1.5 M515.89,412v1.5 M525.62,631.2v-1.5 M525.62,412v1.5 M535.35,631.2v-1.5 M535.35,412v1.5 M554.81,631.2v-1.5 M554.81,412v1.5 M564.54,631.2v-1.5 M564.54,412v1.5 M574.27,631.2v-1.5 M574.27,412v1.5 M593.73,631.2v-1.5 M593.73,412v1.5 M603.46,631.2v-1.5 M603.46,412v1.5 M613.19,631.2v-1.5 M613.19,412v1.5 M632.65,631.2v-1.5 M632.65,412v1.5 M642.38,631.2v-1.5 M642.38,412v1.5 M652.11,631.2v-1.5 M652.11,412v1.5" stroke="#5a5a5a" stroke-width="1" fill="none"/>
<path d="M428.32,631.2v-2.5 M428.32,412v2.5 M467.24,631.2v-2.5 M467.24,412v2.5 M506.16,631.2v-2.5 M506.16,412v2.5 M545.08,631.2v-2.5 M545.08,412v2.5 M584,631.2v-2.5 M584,412v2.5 M622.92,631.2v-2.5 M622.92,412v2.5 M661.84,631.2v-2.5 M661.84,412v2.5" stroke="#5a5a5a" stroke-width="1" fill="none"/>
<path d="M389.4,623.27h1.5 M671.2,623.27h-1.5 M389.4,618.63h1.5 M671.2,618.63h-1.5 M389.4,615.34h1.5 M671.2,615.34h-1.5 M389.4,612.79h1.5 M671.2,612.79h-1.5 M389.4,610.7h1.5 M671.2,610.7h-1.5 M389.4,608.94h1.5 M671.2,608.94h-1.5 M389.4,607.41h1.5 M671.2,607.41h-1.5 M389.4,606.07h1.5 M671.2,606.07h-1.5 M389.4,596.93h1.5 M671.2,596.93h-1.5 M389.4,592.29h1.5 M671.2,592.29h-1.5 M389.4,589h1.5 M671.2,589h-1.5 M389.4,586.45h1.5 M671.2,586.45h-1.5 M389.4,584.36h1.5 M671.2,584.36h-1.5 M389.4,582.6h1.5 M671.2,582.6h-1.5 M389.4,581.07h1.5 M671.2,581.07h-1.5 M389.4,579.73h1.5 M671.2,579.73h-1.5 M389.4,570.59h1.5 M671.2,570.59h-1.5 M389.4,565.95h1.5 M671.2,565.95h-1.5 M389.4,562.66h1.5 M671.2,562.66h-1.5 M389.4,560.11h1.5 M671.2,560.11h-1.5 M389.4,558.02h1.5 M671.2,558.02h-1.5 M389.4,556.26h1.5 M671.2,556.26h-1.5 M389.4,554.73h1.5 M671.2,554.73h-1.5 M389.4,553.39h1.5 M671.2,553.39h-1.5 M389.4,544.25h1.5 M671.2,544.25h-1.5 M389.4,539.61h1.5 M671.2,539.61h-1.5 M389.4,536.32h1.5 M671.2,536.32h-1.5 M389.4,533.77h1.5 M671.2,533.77h-1.5 M389.4,531.68h1.5 M671.2,531.68h-1.5 M389.4,529.92h1.5 M671.2,529.92h-1.5 M389.4,528.39h1.5 M671.2,528.39h-1.5 M389.4,527.05h1.5 M671.2,527.05h-1.5 M389.4,517.91h1.5 M671.2,517.91h-1.5 M389.4,513.27h1.5 M671.2,513.27h-1.5 M389.4,509.98h1.5 M671.2,509.98h-1.5 M389.4,507.43h1.5 M671.2,507.43h-1.5 M389.4,505.34h1.5 M671.2,505.34h-1.5 M389.4,503.58h1.5 M671.2,503.58h-1.5 M389.4,502.05h1.5 M671.2,502.05h-1.5 M389.4,500.71h1.5 M671.2,500.71h-1.5 M389.4,491.57h1.5 M671.2,491.57h-1.5 M389.4,486.93h1.5 M671.2,486.93h-1.5 M389.4,483.64h1.5 M671.2,483.64h-1.5 M389.4,481.09h1.5 M671.2,481.09h-1.5 M389.4,479h1.5 M671.2,479h-1.5 M389.4,477.24h1.5 M671.2,477.24h-1.5 M389.4,475.71h1.5 M671.2,475.71h-1.5 M389.4,474.37h1.5 M671.2,474.37h-1.5 M389.4,465.23h1.5 M671.2,465.23h-1.5 M389.4,460.59h1.5 M671.2,460.59h-1.5 M389.4,457.3h1.5 M671.2,457.3h-1.5 M389.4,454.75h1.5 M671.2,454.75h-1.5 M389.4,452.66h1.5 M671.2,452.66h-1.5 M389.4,450.9h1.5 M671.2,450.9h-1.5 M389.4,449.37h1.5 M671.2,449.37h-1.5 M389.4,448.03h1.5 M671.2,448.03h-1.5 M389.4,438.89h1.5 M671.2,438.89h-1.5 M389.4,434.25h1.5 M671.2,434.25h-1.5 M389.4,430.96h1.5 M671.2,430.96h-1.5 M389.4,428.41h1.5 M671.2,428.41h-1.5 M389.4,426.32h1.5 M671.2,426.32h-1.5 M389.4,424.56h1.5 M671.2,424.56h-1.5 M389.4,423.03h1.5 M671.2,423.03h-1.5 M389.4,421.69h1.5 M671.2,421.69h-1.5 M389.4,412.55h1.5 M671.2,412.55h-1.5" stroke="#5a5a5a" stroke-width="1" fill="none"/>
<path d="M389.4,604.86h2.5 M671.2,604.86h-2.5 M389.4,578.52h2.5 M671.2,578.52h-2.5 M389.4,552.18h2.5 M671.2,552.18h-2.5 M389.4,525.84h2.5 M671.2,525.84h-2.5 M389.4,499.5h2.5 M671.2,499.5h-2.5 M389.4,473.16h2.5 M671.2,473.16h-2.5 M389.4,446.82h2.5 M671.2,446.82h-2.5 M389.4,420.48h2.5 M671.2,420.48h-2.5" stroke="#5a5a5a" stroke-width="1" fill="none"/>
<text x="368.4" y="634.7" font-size="10.1" text-anchor="start" fill="#1e1e1e" textLength="10.7" lengthAdjust="spacingAndGlyphs">10</text>
<text x="379.3" y="631.3" font-size="5.2" text-anchor="start" fill="#1e1e1e" style="stroke-width:0.05px">-5</text>
<text x="368.4" y="608.36" font-size="10.1" text-anchor="start" fill="#1e1e1e" textLength="10.7" lengthAdjust="spacingAndGlyphs">10</text>
<text x="379.3" y="604.96" font-size="5.2" text-anchor="start" fill="#1e1e1e" style="stroke-width:0.05px">-4</text>
<text x="368.4" y="582.02" font-size="10.1" text-anchor="start" fill="#1e1e1e" textLength="10.7" lengthAdjust="spacingAndGlyphs">10</text>
<text x="379.3" y="578.62" font-size="5.2" text-anchor="start" fill="#1e1e1e" style="stroke-width:0.05px">-3</text>
<text x="368.4" y="555.68" font-size="10.1" text-anchor="start" fill="#1e1e1e" textLength="10.7" lengthAdjust="spacingAndGlyphs">10</text>
<text x="379.3" y="552.28" font-size="5.2" text-anchor="start" fill="#1e1e1e" style="stroke-width:0.05px">-2</text>
<text x="368.4" y="529.34" font-size="10.1" text-anchor="start" fill="#1e1e1e" textLength="10.7" lengthAdjust="spacingAndGlyphs">10</text>
<text x="379.3" y="525.94" font-size="5.2" text-anchor="start" fill="#1e1e1e" style="stroke-width:0.05px">-1</text>
<text x="368.4" y="503" font-size="10.1" text-anchor="start" fill="#1e1e1e" textLength="10.7" lengthAdjust="spacingAndGlyphs">10</text>
<text x="379.3" y="499.6" font-size="5.2" text-anchor="start" fill="#1e1e1e" style="stroke-width:0.05px">0</text>
<text x="368.4" y="476.66" font-size="10.1" text-anchor="start" fill="#1e1e1e" textLength="10.7" lengthAdjust="spacingAndGlyphs">10</text>
<text x="379.3" y="473.26" font-size="5.2" text-anchor="start" fill="#1e1e1e" style="stroke-width:0.05px">1</text>
<text x="368.4" y="450.32" font-size="10.1" text-anchor="start" fill="#1e1e1e" textLength="10.7" lengthAdjust="spacingAndGlyphs">10</text>
<text x="379.3" y="446.92" font-size="5.2" text-anchor="start" fill="#1e1e1e" style="stroke-width:0.05px">2</text>
<text x="368.4" y="423.98" font-size="10.1" text-anchor="start" fill="#1e1e1e" textLength="10.7" lengthAdjust="spacingAndGlyphs">10</text>
<text x="379.3" y="420.58" font-size="5.2" text-anchor="start" fill="#1e1e1e" style="stroke-width:0.05px">3</text>
<text x="389.7" y="645.7" font-size="10.1" text-anchor="middle" fill="#1e1e1e" textLength="5.4" lengthAdjust="spacingAndGlyphs">0</text>
<text x="428.62" y="645.7" font-size="10.1" text-anchor="middle" fill="#1e1e1e" textLength="5.4" lengthAdjust="spacingAndGlyphs">4</text>
<text x="467.54" y="645.7" font-size="10.1" text-anchor="middle" fill="#1e1e1e" textLength="5.4" lengthAdjust="spacingAndGlyphs">8</text>
<text x="506.46" y="645.7" font-size="10.1" text-anchor="middle" fill="#1e1e1e" textLength="10.6" lengthAdjust="spacingAndGlyphs">12</text>
<text x="545.38" y="645.7" font-size="10.1" text-anchor="middle" fill="#1e1e1e" textLength="10.6" lengthAdjust="spacingAndGlyphs">16</text>
<text x="584.3" y="645.7" font-size="10.1" text-anchor="middle" fill="#1e1e1e" textLength="10.6" lengthAdjust="spacingAndGlyphs">20</text>
<text x="623.22" y="645.7" font-size="10.1" text-anchor="middle" fill="#1e1e1e" textLength="10.6" lengthAdjust="spacingAndGlyphs">24</text>
<text x="662.14" y="645.7" font-size="10.1" text-anchor="middle" fill="#1e1e1e" textLength="10.6" lengthAdjust="spacingAndGlyphs">28</text>
<text x="468.6" y="668.2" font-size="12.2" text-anchor="start" fill="#1e1e1e" textLength="124" lengthAdjust="spacingAndGlyphs">GCR Charge Group, Z</text>
<g transform="translate(358.9,606.4) rotate(-90)">
<text x="0" y="0" font-size="12" text-anchor="start" fill="#1e1e1e" textLength="170.6" lengthAdjust="spacingAndGlyphs">Mean Hits per Cell per Year</text>
</g>
<path d="M396.23,448.06 L402.03,448.06 L399.13,452.82 Z" fill="#c0313a" stroke="#3a1010" stroke-width="0.6"/>
<path d="M405.96,477.66 L411.76,477.66 L408.86,482.42 Z" fill="#c0313a" stroke="#3a1010" stroke-width="0.6"/>
<path d="M415.69,532.26 L421.49,532.26 L418.59,537.02 Z" fill="#c0313a" stroke="#3a1010" stroke-width="0.6"/>
<path d="M425.42,533.96 L431.22,533.96 L428.32,538.72 Z" fill="#c0313a" stroke="#3a1010" stroke-width="0.6"/>
<path d="M435.15,526.36 L440.95,526.36 L438.05,531.12 Z" fill="#c0313a" stroke="#3a1010" stroke-width="0.6"/>
<path d="M444.88,514.76 L450.68,514.76 L447.78,519.52 Z" fill="#c0313a" stroke="#3a1010" stroke-width="0.6"/>
<path d="M454.61,525.96 L460.41,525.96 L457.51,530.72 Z" fill="#c0313a" stroke="#3a1010" stroke-width="0.6"/>
<path d="M464.34,515.46 L470.14,515.46 L467.24,520.22 Z" fill="#c0313a" stroke="#3a1010" stroke-width="0.6"/>
<path d="M474.07,547.66 L479.87,547.66 L476.97,552.42 Z" fill="#c0313a" stroke="#3a1010" stroke-width="0.6"/>
<path d="M483.8,533.06 L489.6,533.06 L486.7,537.82 Z" fill="#c0313a" stroke="#3a1010" stroke-width="0.6"/>
<path d="M493.53,543.56 L499.33,543.56 L496.43,548.32 Z" fill="#c0313a" stroke="#3a1010" stroke-width="0.6"/>
<path d="M503.26,530.36 L509.06,530.36 L506.16,535.12 Z" fill="#c0313a" stroke="#3a1010" stroke-width="0.6"/>
<path d="M512.99,545.06 L518.79,545.06 L515.89,549.82 Z" fill="#c0313a" stroke="#3a1010" stroke-width="0.6"/>
<path d="M522.72,534.66 L528.52,534.66 L525.62,539.42 Z" fill="#c0313a" stroke="#3a1010" stroke-width="0.6"/>
<path d="M532.45,557.56 L538.25,557.56 L535.35,562.32 Z" fill="#c0313a" stroke="#3a1010" stroke-width="0.6"/>
<path d="M542.18,549.26 L547.98,549.26 L545.08,554.02 Z" fill="#c0313a" stroke="#3a1010" stroke-width="0.6"/>
<path d="M551.91,560.66 L557.71,560.66 L554.81,565.42 Z" fill="#c0313a" stroke="#3a1010" stroke-width="0.6"/>
<path d="M561.64,557.26 L567.44,557.26 L564.54,562.02 Z" fill="#c0313a" stroke="#3a1010" stroke-width="0.6"/>
<path d="M571.37,566.46 L577.17,566.46 L574.27,571.22 Z" fill="#c0313a" stroke="#3a1010" stroke-width="0.6"/>
<path d="M581.1,553.86 L586.9,553.86 L584,558.62 Z" fill="#c0313a" stroke="#3a1010" stroke-width="0.6"/>
<path d="M590.83,560.16 L596.63,560.16 L593.73,564.92 Z" fill="#c0313a" stroke="#3a1010" stroke-width="0.6"/>
<path d="M600.56,553.06 L606.36,553.06 L603.46,557.82 Z" fill="#c0313a" stroke="#3a1010" stroke-width="0.6"/>
<path d="M610.29,557.46 L616.09,557.46 L613.19,562.22 Z" fill="#c0313a" stroke="#3a1010" stroke-width="0.6"/>
<path d="M620.02,552.76 L625.82,552.76 L622.92,557.52 Z" fill="#c0313a" stroke="#3a1010" stroke-width="0.6"/>
<path d="M629.75,560.96 L635.55,560.96 L632.65,565.72 Z" fill="#c0313a" stroke="#3a1010" stroke-width="0.6"/>
<path d="M639.48,537.96 L645.28,537.96 L642.38,542.72 Z" fill="#c0313a" stroke="#3a1010" stroke-width="0.6"/>
<path d="M649.21,590.36 L655.01,590.36 L652.11,595.12 Z" fill="#c0313a" stroke="#3a1010" stroke-width="0.6"/>
<path d="M658.94,572.76 L664.74,572.76 L661.84,577.52 Z" fill="#c0313a" stroke="#3a1010" stroke-width="0.6"/>
<circle cx="399.13" cy="454.6" r="2.8" fill="#0a0a0a"/>
<circle cx="408.86" cy="488.1" r="2.8" fill="#0a0a0a"/>
<circle cx="418.59" cy="544.9" r="2.8" fill="#0a0a0a"/>
<circle cx="428.32" cy="549.3" r="2.8" fill="#0a0a0a"/>
<circle cx="438.05" cy="544" r="2.8" fill="#0a0a0a"/>
<circle cx="447.78" cy="534.4" r="2.8" fill="#0a0a0a"/>
<circle cx="457.51" cy="547.5" r="2.8" fill="#0a0a0a"/>
<circle cx="467.24" cy="538.6" r="2.8" fill="#0a0a0a"/>
<circle cx="476.97" cy="572.2" r="2.8" fill="#0a0a0a"/>
<circle cx="486.7" cy="559.3" r="2.8" fill="#0a0a0a"/>
<circle cx="496.43" cy="571.2" r="2.8" fill="#0a0a0a"/>
<circle cx="506.16" cy="559.1" r="2.8" fill="#0a0a0a"/>
<circle cx="515.89" cy="575.2" r="2.8" fill="#0a0a0a"/>
<circle cx="525.62" cy="565.6" r="2.8" fill="#0a0a0a"/>
<circle cx="535.35" cy="589.4" r="2.8" fill="#0a0a0a"/>
<circle cx="545.08" cy="581.6" r="2.8" fill="#0a0a0a"/>
<circle cx="554.81" cy="593.9" r="2.8" fill="#0a0a0a"/>
<circle cx="564.54" cy="590.8" r="2.8" fill="#0a0a0a"/>
<circle cx="574.27" cy="601.2" r="2.8" fill="#0a0a0a"/>
<circle cx="584" cy="589.1" r="2.8" fill="#0a0a0a"/>
<circle cx="593.73" cy="598.8" r="2.8" fill="#0a0a0a"/>
<circle cx="603.46" cy="592.2" r="2.8" fill="#0a0a0a"/>
<circle cx="613.19" cy="597.5" r="2.8" fill="#0a0a0a"/>
<circle cx="622.92" cy="593.3" r="2.8" fill="#0a0a0a"/>
<circle cx="632.65" cy="602" r="2.8" fill="#0a0a0a"/>
<circle cx="642.38" cy="579.8" r="2.8" fill="#0a0a0a"/>
<circle cx="661.84" cy="615.6" r="2.8" fill="#0a0a0a"/>
<rect x="396.68" y="418.35" width="4.9" height="4.9" fill="#1f9350" stroke="#0b2a16" stroke-width="0.7"/>
<rect x="406.41" y="452.35" width="4.9" height="4.9" fill="#1f9350" stroke="#0b2a16" stroke-width="0.7"/>
<rect x="416.14" y="508.85" width="4.9" height="4.9" fill="#1f9350" stroke="#0b2a16" stroke-width="0.7"/>
<rect x="425.87" y="513.25" width="4.9" height="4.9" fill="#1f9350" stroke="#0b2a16" stroke-width="0.7"/>
<rect x="435.6" y="508.05" width="4.9" height="4.9" fill="#1f9350" stroke="#0b2a16" stroke-width="0.7"/>
<rect x="445.33" y="498.65" width="4.9" height="4.9" fill="#1f9350" stroke="#0b2a16" stroke-width="0.7"/>
<rect x="455.06" y="511.25" width="4.9" height="4.9" fill="#1f9350" stroke="#0b2a16" stroke-width="0.7"/>
<rect x="464.79" y="502.65" width="4.9" height="4.9" fill="#1f9350" stroke="#0b2a16" stroke-width="0.7"/>
<rect x="474.52" y="536.05" width="4.9" height="4.9" fill="#1f9350" stroke="#0b2a16" stroke-width="0.7"/>
<rect x="484.25" y="523.15" width="4.9" height="4.9" fill="#1f9350" stroke="#0b2a16" stroke-width="0.7"/>
<rect x="493.98" y="535.05" width="4.9" height="4.9" fill="#1f9350" stroke="#0b2a16" stroke-width="0.7"/>
<rect x="503.71" y="523.15" width="4.9" height="4.9" fill="#1f9350" stroke="#0b2a16" stroke-width="0.7"/>
<rect x="513.44" y="539.05" width="4.9" height="4.9" fill="#1f9350" stroke="#0b2a16" stroke-width="0.7"/>
<rect x="523.17" y="529.35" width="4.9" height="4.9" fill="#1f9350" stroke="#0b2a16" stroke-width="0.7"/>
<rect x="532.9" y="553.25" width="4.9" height="4.9" fill="#1f9350" stroke="#0b2a16" stroke-width="0.7"/>
<rect x="542.63" y="545.35" width="4.9" height="4.9" fill="#1f9350" stroke="#0b2a16" stroke-width="0.7"/>
<rect x="552.36" y="557.85" width="4.9" height="4.9" fill="#1f9350" stroke="#0b2a16" stroke-width="0.7"/>
<rect x="562.09" y="554.65" width="4.9" height="4.9" fill="#1f9350" stroke="#0b2a16" stroke-width="0.7"/>
<rect x="571.82" y="565.35" width="4.9" height="4.9" fill="#1f9350" stroke="#0b2a16" stroke-width="0.7"/>
<rect x="581.55" y="552.65" width="4.9" height="4.9" fill="#1f9350" stroke="#0b2a16" stroke-width="0.7"/>
<rect x="591.28" y="562.95" width="4.9" height="4.9" fill="#1f9350" stroke="#0b2a16" stroke-width="0.7"/>
<rect x="601.01" y="556.05" width="4.9" height="4.9" fill="#1f9350" stroke="#0b2a16" stroke-width="0.7"/>
<rect x="610.74" y="561.35" width="4.9" height="4.9" fill="#1f9350" stroke="#0b2a16" stroke-width="0.7"/>
<rect x="620.47" y="557.15" width="4.9" height="4.9" fill="#1f9350" stroke="#0b2a16" stroke-width="0.7"/>
<rect x="630.2" y="565.75" width="4.9" height="4.9" fill="#1f9350" stroke="#0b2a16" stroke-width="0.7"/>
<rect x="639.93" y="543.55" width="4.9" height="4.9" fill="#1f9350" stroke="#0b2a16" stroke-width="0.7"/>
<rect x="649.66" y="596.15" width="4.9" height="4.9" fill="#1f9350" stroke="#0b2a16" stroke-width="0.7"/>
<rect x="659.39" y="579.15" width="4.9" height="4.9" fill="#1f9350" stroke="#0b2a16" stroke-width="0.7"/>
<rect x="535" y="432.1" width="108.4" height="44.9" fill="none" stroke="#707070" stroke-width="1.1"/>
<circle cx="549.6" cy="443.3" r="2.5" fill="#0a0a0a"/>
<path d="M547.1,453.15 L552.1,453.15 L549.6,457.25 Z" fill="#c0313a" stroke="#3a1010" stroke-width="0.6"/>
<rect x="547.4" y="464.2" width="4.4" height="4.4" fill="#1f9350" stroke="#0b2a16" stroke-width="0.7"/>
<text x="562.6" y="446.4" font-size="8.2" text-anchor="start" fill="#1e1e1e" textLength="60.8" lengthAdjust="spacingAndGlyphs" style="stroke-width:0.14px">Potential TE cells</text>
<text x="562.6" y="458.3" font-size="8.2" text-anchor="start" fill="#1e1e1e" textLength="76" lengthAdjust="spacingAndGlyphs" style="stroke-width:0.14px">With &#948;-rays &gt;0.1 mGy</text>
<text x="562.6" y="469.6" font-size="8.2" text-anchor="start" fill="#1e1e1e" textLength="66.2" lengthAdjust="spacingAndGlyphs" style="stroke-width:0.14px">Potential NTE cells</text>
</svg>
</body></html>
